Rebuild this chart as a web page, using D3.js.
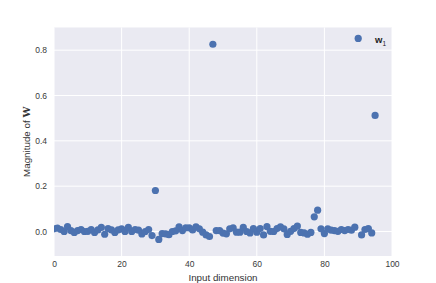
<!DOCTYPE html>
<html>
<head>
<meta charset="utf-8">
<script src="https://cdn.jsdelivr.net/npm/d3@7"></script>
<style>
  html, body { margin: 0; padding: 0; background: #ffffff; }
  svg { display: block; }
  text { font-family: "Liberation Sans", Arial, sans-serif; }
</style>
</head>
<body>
<svg id="chart" width="436" height="283"></svg>
<script>
// ---- data ----
const dims = d3.range(0, 96);
const magnitudes = [
  0.012, 0.015, 0.009, 0.000, 0.022, 0.004, -0.004, 0.004, 0.009, 0.000,
  0.001, 0.009, -0.004, 0.007, 0.018, -0.012, 0.013, 0.007, -0.004, 0.007,
  0.012, 0.000, 0.018, 0.000, 0.009, 0.006, -0.011, 0.000, 0.009, -0.018,
  0.181, -0.035, -0.009, -0.010, -0.014, 0.000, 0.003, 0.021, 0.004, 0.016,
  0.016, 0.007, 0.021, 0.012, -0.003, -0.015, -0.022, 0.826, 0.004, 0.004,
  -0.007, -0.010, 0.012, 0.016, -0.003, -0.003, 0.018, 0.000, -0.006, 0.013,
  -0.003, 0.013, -0.015, 0.022, 0.001, 0.000, 0.013, 0.021, 0.012, -0.013,
  0.001, 0.013, 0.024, -0.004, -0.006, -0.012, -0.004, 0.065, 0.094, 0.012,
  -0.009, 0.012, 0.006, 0.004, 0.001, 0.009, 0.004, 0.009, 0.006, 0.019,
  0.852, -0.015, 0.009, 0.013, -0.006, 0.512
];
const xTicks = [0, 20, 40, 60, 80, 100];
const yTicks = [0.0, 0.2, 0.4, 0.6, 0.8];
const xLabel = "Input dimension";
const yLabelPrefix = "Magnitude of ";
const yLabelBold = "W";
const legendLabel = "w";
const legendSub = "1";

// ---- layout ----
const svg = d3.select("#chart");
const pL = 54, pR = 392, pT = 27.5, pB = 256;

const x = d3.scaleLinear().domain([0, 100]).range([pL, pR]);
const y = d3.scaleLinear().domain([-0.108, 0.90]).range([pB, pT]);

// background
svg.append("rect")
  .attr("x", pL).attr("y", pT)
  .attr("width", pR - pL).attr("height", pB - pT)
  .attr("fill", "#EAEAF2");

// grid
svg.append("g").selectAll("line").data(xTicks).join("line")
  .attr("x1", d => x(d)).attr("x2", d => x(d))
  .attr("y1", pT).attr("y2", pB)
  .attr("stroke", "#ffffff").attr("stroke-width", 1);
svg.append("g").selectAll("line").data(yTicks).join("line")
  .attr("x1", pL).attr("x2", pR)
  .attr("y1", d => y(d)).attr("y2", d => y(d))
  .attr("stroke", "#ffffff").attr("stroke-width", 1);

// axes (labels only, no ticks/domain)
const xAxis = d3.axisBottom(x).tickValues(xTicks).tickSize(0).tickPadding(5).tickFormat(d3.format("d"));
const gx = svg.append("g").attr("transform", `translate(0,${pB})`).call(xAxis);
gx.select(".domain").remove();
gx.selectAll("text").attr("font-size", 8.5).attr("fill", "#3a3a3a")
  .attr("font-family", "'Liberation Sans', Arial, sans-serif");

const yAxis = d3.axisLeft(y).tickValues(yTicks).tickSize(0).tickPadding(7).tickFormat(d3.format(".1f"));
const gy = svg.append("g").attr("transform", `translate(${pL},0)`).call(yAxis);
gy.select(".domain").remove();
gy.selectAll("text").attr("font-size", 8.5).attr("fill", "#3a3a3a")
  .attr("font-family", "'Liberation Sans', Arial, sans-serif");

// clip
svg.append("clipPath").attr("id", "clip").append("rect")
  .attr("x", pL).attr("y", pT).attr("width", pR - pL).attr("height", pB - pT);

// points
svg.append("g").attr("clip-path", "url(#clip)")
  .selectAll("circle").data(dims).join("circle")
  .attr("cx", d => x(d))
  .attr("cy", (d, i) => y(magnitudes[i]))
  .attr("r", 3.6)
  .attr("fill", "#4C72B0");

// axis labels
svg.append("text")
  .attr("x", (pL + pR) / 2).attr("y", 280.5)
  .attr("text-anchor", "middle").attr("font-size", 9.8).attr("fill", "#333")
  .text(xLabel);

const yl = svg.append("text")
  .attr("transform", `translate(30,${(pT + pB) / 2}) rotate(-90)`)
  .attr("text-anchor", "middle").attr("font-size", 9.8).attr("fill", "#333");
yl.append("tspan").text(yLabelPrefix);
yl.append("tspan").attr("font-weight", "bold").attr("font-family", "'DejaVu Serif', serif").text(yLabelBold);

// legend
const lg = svg.append("text")
  .attr("x", 375).attr("y", 43)
  .attr("font-size", 9.5).attr("fill", "#222")
  .attr("font-family", "'DejaVu Serif', serif");
lg.append("tspan").attr("font-weight", "bold").text(legendLabel);
lg.append("tspan").attr("font-size", 6.5).attr("dy", 2.5).text(legendSub);
</script>
</body>
</html>
